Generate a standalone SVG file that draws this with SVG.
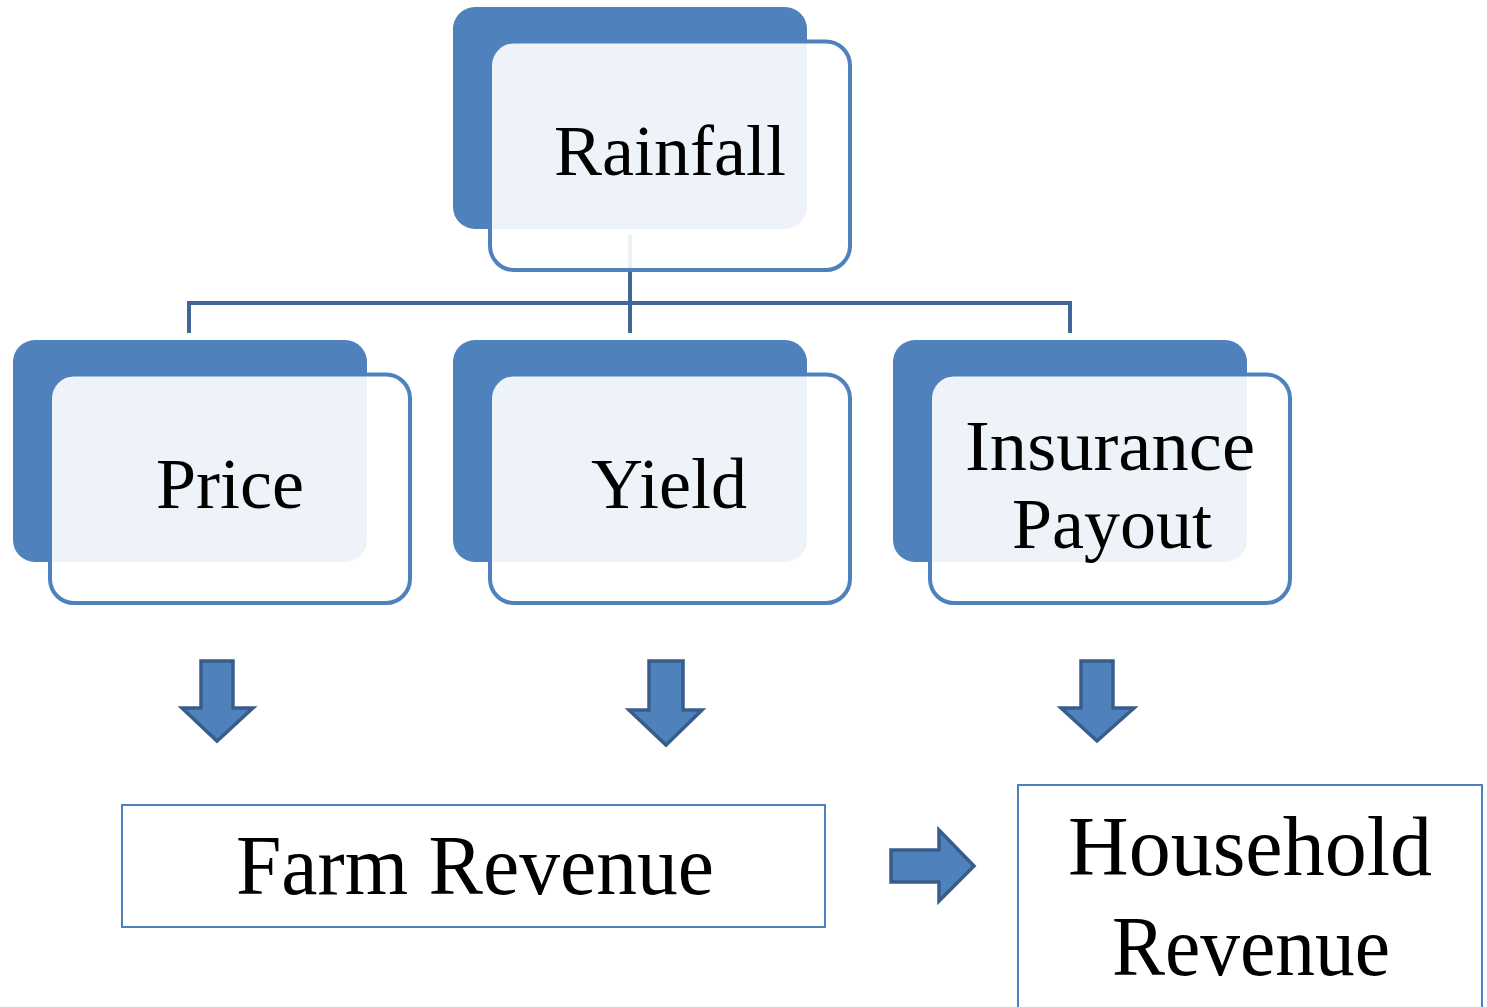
<svg xmlns="http://www.w3.org/2000/svg" width="1487" height="1007" viewBox="0 0 1487 1007">
<style>
.back{fill:#4F81BD;}
.front{fill:#FFFFFF;fill-opacity:0.9;stroke:#4F81BD;stroke-width:4;}
.box{fill:#FFFFFF;stroke:#4F81BD;stroke-width:2;}
.conn{fill:none;stroke:#3F6697;stroke-width:4;}
.arrow{fill:#4F81BD;stroke:#385D8A;stroke-width:3.5;stroke-linejoin:miter;}
text{font-family:"Liberation Serif","DejaVu Serif",serif;fill:#000000;text-anchor:middle;}
.t{font-size:72px;}
.b{font-size:84px;}
</style>
<rect width="1487" height="1007" fill="#FFFFFF"/>
<g id="connectors">
<path class="conn" d="M630,235 V333 M189,333 V303 H1070 V333"/>
<polygon class="arrow" points="201,661 233,661 233,708 253,708 217,741 182,708 201,708"/>
<polygon class="arrow" points="649,661 683,661 683,710 702,710 666,745 629,710 649,710"/>
<polygon class="arrow" points="1081,661 1113,661 1113,708 1134,708 1097,741 1061,708 1081,708"/>
<polygon class="arrow" points="891,850 939,850 939,830 974,866 939,901 939,882 891,882"/>
</g>
<g id="rainfall">
<rect class="back" x="453" y="7" width="354" height="222" rx="22"/>
<rect class="front" x="490" y="41.5" width="360" height="228.5" rx="24"/>
<text class="t" x="670" y="175">Rainfall</text>
</g>
<g id="price">
<rect class="back" x="13" y="340" width="354" height="222" rx="22"/>
<rect class="front" x="50" y="374.5" width="360" height="228.5" rx="24"/>
<text class="t" x="230" y="508">Price</text>
</g>
<g id="yield">
<rect class="back" x="453" y="340" width="354" height="222" rx="22"/>
<rect class="front" x="490" y="374.5" width="360" height="228.5" rx="24"/>
<text class="t" x="669" y="508">Yield</text>
</g>
<g id="insurance">
<rect class="back" x="893" y="340" width="354" height="222" rx="22"/>
<rect class="front" x="930" y="374.5" width="360" height="228.5" rx="24"/>
<text class="t" x="1110" y="470" textLength="290" lengthAdjust="spacingAndGlyphs">Insurance</text>
<text class="t" x="1112" y="548">Payout</text>
</g>
<g id="farm-revenue">
<rect class="box" x="122" y="805" width="703" height="122"/>
<text class="b" x="475" y="894" textLength="478" lengthAdjust="spacingAndGlyphs">Farm Revenue</text>
</g>
<g id="household-revenue">
<rect class="box" x="1018" y="785" width="464" height="240"/>
<text class="b" x="1250" y="875">Household</text>
<text class="b" x="1251" y="975" textLength="278" lengthAdjust="spacingAndGlyphs">Revenue</text>
</g>
</svg>
